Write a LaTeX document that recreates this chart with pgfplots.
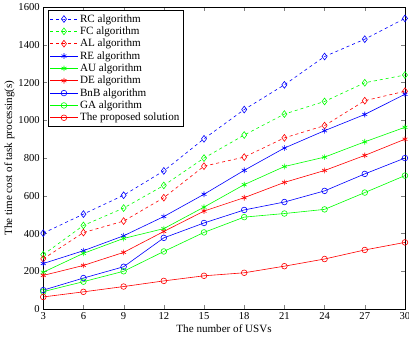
\documentclass[border=0pt]{standalone}
\usepackage{pgfplots}
\pgfplotsset{compat=1.18}
\usepackage{fontspec}
\setmainfont{Liberation Serif}
\begin{document}
\begin{tikzpicture}
\begin{axis}[
  scale only axis,
  width=357bp, height=298bp,
  xmin=3, xmax=30, ymin=0, ymax=1600,
  xtick={3,6,...,30}, ytick={0,200,...,1600},
  tick align=inside,
  tick pos=both,
  axis line style={black, line width=0.6pt},
  major tick length=4bp,
  /pgf/number format/assume math mode=true,
  /pgf/number format/1000 sep={},
  ticklabel style={font=\fontsize{10.5}{12}\selectfont},
  xlabel={The number of USVs},
  ylabel={The time cost of task processing(s)},
  label style={font=\fontsize{11}{13}\selectfont},
  xlabel style={yshift=2pt},
  ylabel style={yshift=-3pt},
  legend style={font=\fontsize{11}{12.3}\selectfont, draw=black, line width=0.5pt, row sep=-0.9pt, inner sep=2pt, at={(0.012,0.99)}, anchor=north west},
  legend image code/.code={\draw[mark repeat=2,mark phase=2] plot coordinates {(0cm,0cm) (0.48cm,0cm) (0.96cm,0cm)};},
  legend cell align=left,
  every axis plot/.append style={line width=0.6pt, mark size=2.8pt},
]
\addplot[blue, dashed, mark=diamond, mark options={solid, scale=1.2}] coordinates {(3,402)(6,503)(9,603)(12,732)(15,902)(18,1057)(21,1188)(24,1338)(27,1430)(30,1540)};
\addlegendentry{RC algorithm}
\addplot[green, dashed, mark=diamond, mark options={solid, scale=1.2}] coordinates {(3,288)(6,443)(9,535)(12,655)(15,800)(18,922)(21,1033)(24,1100)(27,1199)(30,1240)};
\addlegendentry{FC algorithm}
\addplot[red, dashed, mark=diamond, mark options={solid, scale=1.2}] coordinates {(3,266)(6,405)(9,466)(12,590)(15,757)(18,805)(21,907)(24,972)(27,1104)(30,1154)};
\addlegendentry{AL algorithm}
\addplot[blue, mark=asterisk] coordinates {(3,241)(6,309)(9,388)(12,490)(15,608)(18,735)(21,853)(24,945)(27,1031)(30,1138)};
\addlegendentry{RE algorithm}
\addplot[green, mark=asterisk] coordinates {(3,195)(6,295)(9,374)(12,426)(15,540)(18,659)(21,755)(24,805)(27,886)(30,963)};
\addlegendentry{AU algorithm}
\addplot[red, mark=asterisk] coordinates {(3,178)(6,231)(9,300)(12,411)(15,519)(18,590)(21,671)(24,734)(27,814)(30,900)};
\addlegendentry{DE algorithm}
\addplot[blue, mark=o] coordinates {(3,100)(6,164)(9,224)(12,377)(15,456)(18,525)(21,567)(24,626)(27,716)(30,800)};
\addlegendentry{BnB algorithm}
\addplot[green, mark=o] coordinates {(3,92)(6,145)(9,200)(12,305)(15,406)(18,487)(21,506)(24,528)(27,617)(30,707)};
\addlegendentry{GA algorithm}
\addplot[red, mark=o] coordinates {(3,64)(6,91)(9,119)(12,149)(15,176)(18,192)(21,227)(24,265)(27,313)(30,353)};
\addlegendentry{The proposed solution}
\end{axis}
\pgfresetboundingbox
\coordinate (bl) at ([xshift=-1bp,yshift=-6bp]current axis.outer south west);
\coordinate (ne) at ([xshift=4bp,yshift=7bp]current axis.north east);
\path[use as bounding box] (bl) rectangle (ne);
\end{tikzpicture}
\end{document}
